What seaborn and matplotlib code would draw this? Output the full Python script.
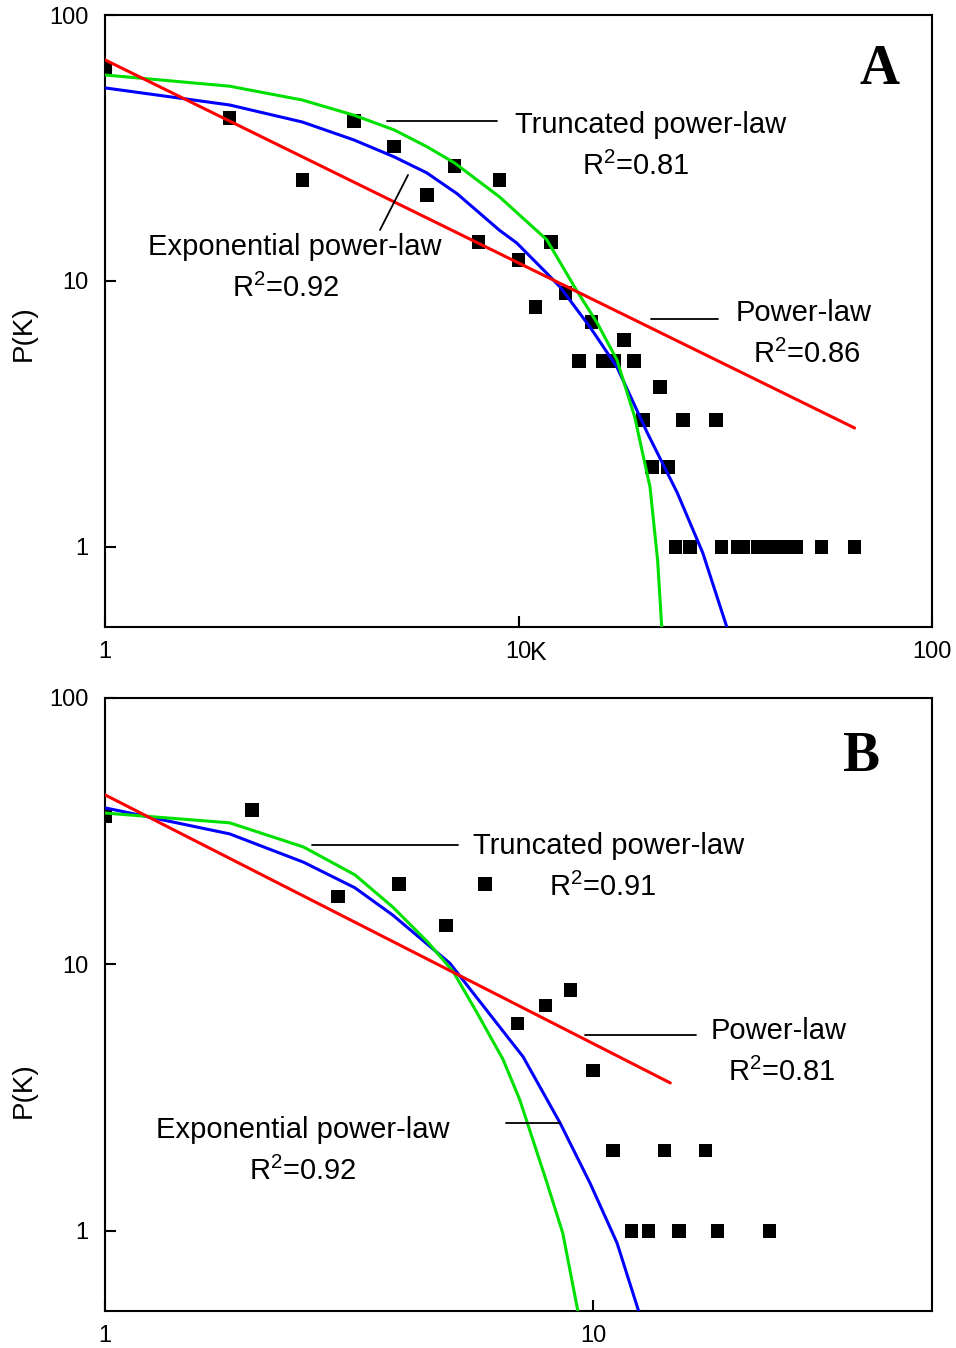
# -*- coding: utf-8 -*-
# Degree distribution P(K) with three fitted curves, two panels (A, B)
import matplotlib
matplotlib.use("Agg")
import matplotlib.pyplot as plt
from matplotlib.lines import Line2D
import seaborn as sns

# ---- panel A data ----
ka_pts = [1, 2, 3, 4, 5, 6, 7, 8, 9, 10, 11, 12, 13, 14, 15, 16, 17, 18, 19, 20,
          21, 22, 23, 24, 25, 26, 30, 31, 34, 35, 38, 41, 44, 47, 54, 65]
pa_pts = [63, 41, 24, 40, 32, 21, 27, 14, 24, 12, 8, 14, 9, 5, 7, 5, 5, 6, 5, 3,
          2, 4, 2, 1, 3, 1, 3, 1, 1, 1, 1, 1, 1, 1, 1, 1]

ka_pow = [1, 65]
pa_pow = [67.8, 2.8]

ka_trunc = [1, 2, 3, 4, 5, 6, 7, 9, 11.7, 13.8, 15.5, 17.3, 19.1, 20.8, 21.7, 22.2]
pa_trunc = [59.5, 54, 47.9, 42, 37, 32, 27.8, 20.7, 14.3, 9.25, 6.95, 5.05, 3.08, 1.68, 0.89, 0.5]

ka_exp = [1, 2, 3, 4, 5, 6, 7.1, 9, 9.9, 11.7, 12.6, 14.9, 17.3, 20.5, 24.2, 27.9, 31.9]
pa_exp = [53.2, 45.9, 39.6, 33.9, 29.3, 25.5, 21.3, 15.5, 13.9, 10.7, 9.5, 6.7, 4.75, 2.68, 1.6, 0.95, 0.5]

# ---- panel B data ----
kb_pts = [1, 2, 3, 4, 5, 6, 7, 8, 9, 10, 11, 12, 13, 14, 15, 17, 18, 23]
pb_pts = [36, 38, 18, 20, 14, 20, 6, 7, 8, 4, 2, 1, 1, 2, 1, 2, 1, 1]

kb_pow = [1, 14.4]
pb_pow = [43.3, 3.59]

kb_trunc = [1, 1.8, 2.55, 3.25, 3.89, 4.59, 5.17, 5.78, 6.54, 7.08, 8.05, 8.67, 9.31]
pb_trunc = [37, 34.0, 27.6, 21.7, 16.4, 12.1, 9.4, 6.6, 4.4, 3.1, 1.51, 0.98, 0.5]

kb_exp = [1, 1.8, 2.55, 3.25, 3.89, 5.09, 6.45, 7.19, 8.56, 9.86, 11.2, 12.4]
pb_exp = [38.7, 30.9, 24.2, 19.4, 15.3, 10.1, 5.8, 4.5, 2.54, 1.51, 0.90, 0.5]

sns.set_style("ticks")
plt.rcParams['font.family'] = ['Liberation Sans', 'DejaVu Sans']
plt.rcParams['mathtext.default'] = 'regular'
plt.rcParams['text.color'] = 'black'
plt.rcParams['axes.labelcolor'] = 'black'

W, H = 956, 1348
fig = plt.figure(figsize=(W / 100, H / 100), dpi=100)


def fx(x):
    return x / W


def fy(y):
    return 1 - y / H


ax_a = fig.add_axes([fx(105), fy(627), fx(932) - fx(105), fy(15) - fy(627)])
ax_b = fig.add_axes([fx(105), fy(1311), fx(932) - fx(105), fy(698) - fy(1311)])


def draw_panel(ax, k, p, kp, pp, kt, pt, ke, pe, xmax, xticks, ylab_y):
    sns.scatterplot(x=k, y=p, marker='s', s=95, color='black', edgecolor='none',
                    linewidth=0, ax=ax, zorder=2)
    sns.lineplot(x=ke, y=pe, color='#0000ff', lw=2.2, sort=False, estimator=None, ax=ax, zorder=3)
    sns.lineplot(x=kt, y=pt, color='#00e000', lw=2.2, sort=False, estimator=None, ax=ax, zorder=3)
    sns.lineplot(x=kp, y=pp, color='#ff0000', lw=2.2, sort=False, estimator=None, ax=ax, zorder=4)
    ax.set_xscale('log')
    ax.set_yscale('log')
    ax.set_xlim(1, xmax)
    ax.set_ylim(0.5, 100)
    ax.set_xticks(xticks)
    ax.set_xticklabels([str(t) for t in xticks])
    ax.set_yticks([1, 10, 100])
    ax.set_yticklabels(['1', '10', '100'])
    ax.minorticks_off()
    ax.tick_params(direction='in', length=8, width=1.5, labelsize=17, colors='black',
                   top=False, right=False)
    ax.tick_params(axis='y', pad=12)
    ax.tick_params(axis='x', pad=10)
    for s in ax.spines.values():
        s.set_visible(True)
        s.set_linewidth(1.5)
        s.set_color('black')
    ax.set_xlabel('')
    ax.set_ylabel('P(K)', fontsize=20, color='black')
    ax.yaxis.set_label_coords(-0.083, ylab_y)


draw_panel(ax_a, ka_pts, pa_pts, ka_pow, pa_pow, ka_trunc, pa_trunc, ka_exp, pa_exp,
           100, [1, 10, 100], 0.48)
draw_panel(ax_b, kb_pts, pb_pts, kb_pow, pb_pow, kb_trunc, pb_trunc, kb_exp, pb_exp,
           49.5, [1, 10], 0.36)

# x label K sits right after the "10" tick in panel A
fig.text(fx(530), fy(660), 'K', fontsize=18, ha='left', va='baseline', color='black')

fs = 21
labels = [
    # text, left px, baseline px
    ('Truncated power-law', 515, 133), ('R$^2$=0.81', 582, 175),
    ('Exponential power-law', 148, 255), ('R$^2$=0.92', 232, 297),
    ('Power-law', 736, 321), ('R$^2$=0.86', 753, 363),
    ('Truncated power-law', 473, 854), ('R$^2$=0.91', 549, 896),
    ('Power-law', 711, 1039), ('R$^2$=0.81', 728, 1081),
    ('Exponential power-law', 156, 1138), ('R$^2$=0.92', 249, 1180),
]
for txt, x, y in labels:
    fig.text(fx(x), fy(y), txt, fontsize=fs, ha='left', va='baseline', color='black')

leaders = [
    ((387, 121), (497, 121)),
    ((408, 175), (380, 230)),
    ((651, 319), (718, 319)),
    ((312, 845), (458, 845)),
    ((585, 1035), (696, 1035)),
    ((506, 1123), (560, 1123)),
]
for (x1, y1), (x2, y2) in leaders:
    fig.add_artist(Line2D([fx(x1), fx(x2)], [fy(y1), fy(y2)], transform=fig.transFigure,
                          color='black', lw=1.3, zorder=5))

fig.text(fx(880), fy(70), 'A', family='Liberation Serif', weight='bold', fontsize=40,
         ha='center', va='center', color='black')
fig.text(fx(861), fy(757), 'B', family='Liberation Serif', weight='bold', fontsize=40,
         ha='center', va='center', color='black')

fig.savefig('out.png', dpi=100, facecolor='white')
